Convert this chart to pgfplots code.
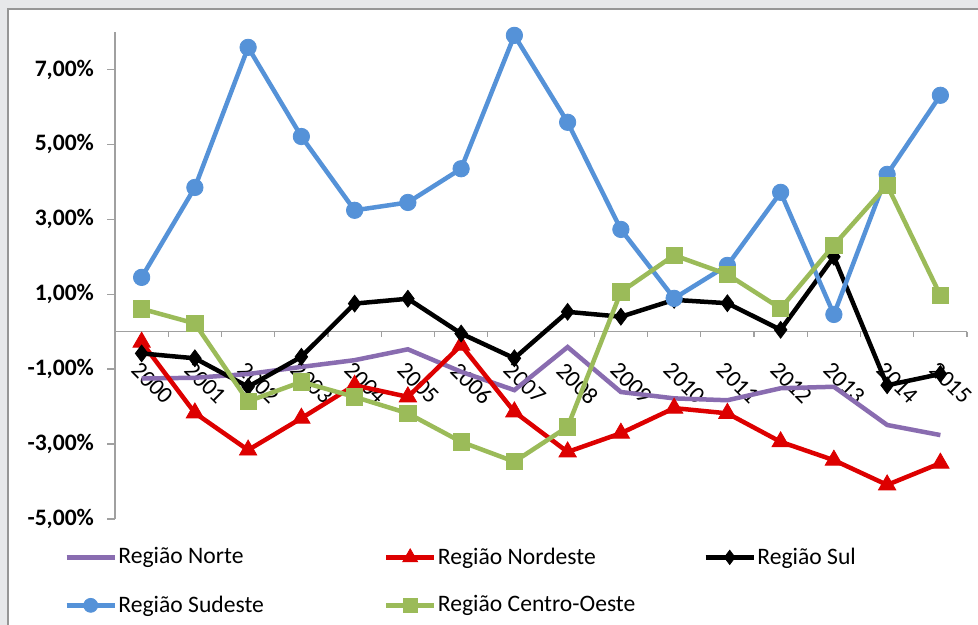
\documentclass[border=0pt]{standalone}
\usepackage{pgfplots}
\pgfplotsset{compat=1.18}
\usepackage{fontspec}
\setmainfont{Carlito}

\definecolor{bggray}{RGB}{231,232,234}
\definecolor{framegray}{RGB}{150,150,150}
\definecolor{axisgray}{RGB}{160,160,160}
\definecolor{cNorte}{RGB}{137,108,176}
\definecolor{cNordeste}{RGB}{221,0,0}
\definecolor{cSul}{RGB}{0,0,0}
\definecolor{cSudeste}{RGB}{85,146,216}
\definecolor{cCO}{RGB}{155,187,89}

% growth by region, 2000-2015 (index 0 = 2000)
\pgfplotstableread{
x  norte  nordeste  sul    sudeste  co
0  -1.25  -0.28     -0.58  1.45     0.61
1  -1.23  -2.17     -0.71  3.85     0.22
2  -1.13  -3.16     -1.47  7.59     -1.86
3  -0.94  -2.31     -0.67  5.21     -1.34
4  -0.76  -1.43      0.75  3.24     -1.74
5  -0.47  -1.74      0.88  3.45     -2.18
6  -1.07  -0.36     -0.05  4.35     -2.94
7  -1.56  -2.14     -0.71  7.91     -3.47
8  -0.41  -3.21      0.53  5.59     -2.54
9  -1.61  -2.71      0.40  2.73      1.06
10 -1.78  -2.04      0.85  0.89      2.04
11 -1.83  -2.18      0.76  1.77      1.53
12 -1.51  -2.94      0.05  3.72      0.62
13 -1.47  -3.43      2.00  0.46      2.31
14 -2.49  -4.09     -1.43  4.20      3.91
15 -2.76  -3.51     -1.13  6.31      0.97
}\regioes

\begin{document}
\begin{tikzpicture}
\useasboundingbox (0,0) rectangle (489pt,312.5pt);
\fill[bggray] (0,0) rectangle (489pt,312.5pt);
\fill[white] (4pt,0) rectangle (489pt,308pt);
\draw[framegray, line width=0.8pt] (4pt,-2pt) -- (4pt,308pt) -- (491pt,308pt);
\begin{axis}[
  at={(57.5pt,53pt)}, anchor=south west,
  scale only axis, width=426pt, height=243.5pt,
  xmin=-0.5, xmax=15.5, ymin=-5, ymax=8,
  axis x line=middle, axis y line=left,
  axis line style={-, draw=axisgray, line width=0.7pt},
  every inner x axis line/.append style={-},
  every outer y axis line/.append style={-},
  xtick={0,...,15},
  xticklabels={2000,2001,2002,2003,2004,2005,2006,2007,2008,2009,2010,2011,2012,2013,2014,2015},
  x tick style={draw=none},
  xticklabel style={rotate=-45, anchor=north west, font=\fontsize{11.8}{13}\selectfont, inner sep=1pt, yshift=-6.5pt, xshift=6pt},
  ytick={-5,-3,-1,1,3,5,7},
  yticklabels={{-5,00\%},{-3,00\%},{-1,00\%},{1,00\%},{3,00\%},{5,00\%},{7,00\%}},
  y tick style={draw=axisgray, line width=0.7pt},
  major tick length=4pt, tick align=outside,
  yticklabel style={font=\bfseries\fontsize{11.8}{13}\selectfont, xshift=-3pt},
  clip=false,
  legend columns=3,
  legend cell align=left,
  legend image code/.code={\draw[mark repeat=2,mark phase=2,#1,every mark/.append style={scale=0.85}] plot coordinates {(0pt,0pt) (12pt,0pt) (24pt,0pt)};},
  legend style={at={(-0.0598,-0.055)}, anchor=north west, draw=none, fill=none,
    inner sep=0pt, font=\fontsize{11.8}{13}\selectfont,
    /tikz/column sep=0pt, /tikz/row sep=12.8pt,
    nodes={inner sep=0.75pt}},
  every axis plot/.append style={line width=2.25pt, mark options={solid, line width=0.4pt}},
]
\pgfplotsinvokeforeach{-0.5,0.5,1.5,2.5,3.5,4.5,5.5,6.5,7.5,8.5,9.5,10.5,11.5,12.5,13.5,14.5,15.5}{
  \draw[axisgray, line width=0.7pt] (axis cs:#1,0) -- ++(0pt,-2.5pt);
}
\addplot[cNorte, no markers] table[x=x, y=norte] {\regioes};
\addlegendentry{\makebox[132pt][l]{Região Norte}}
\addplot[cNordeste, mark=triangle*, mark size=5pt] table[x=x, y=nordeste] {\regioes};
\addlegendentry{\makebox[132pt][l]{Região Nordeste}}
\addplot[cSul, mark=diamond*, mark size=4.2pt] table[x=x, y=sul] {\regioes};
\addlegendentry{\makebox[132pt][l]{Região Sul}}
\addplot[cSudeste, mark=*, mark size=4.1pt] table[x=x, y=sudeste] {\regioes};
\addlegendentry{\makebox[132pt][l]{Região Sudeste}}
\addplot[cCO, mark=square*, mark size=4.1pt] table[x=x, y=co] {\regioes};
\addlegendentry{\makebox[132pt][l]{Região Centro-Oeste}}
\end{axis}
\end{tikzpicture}
\end{document}
